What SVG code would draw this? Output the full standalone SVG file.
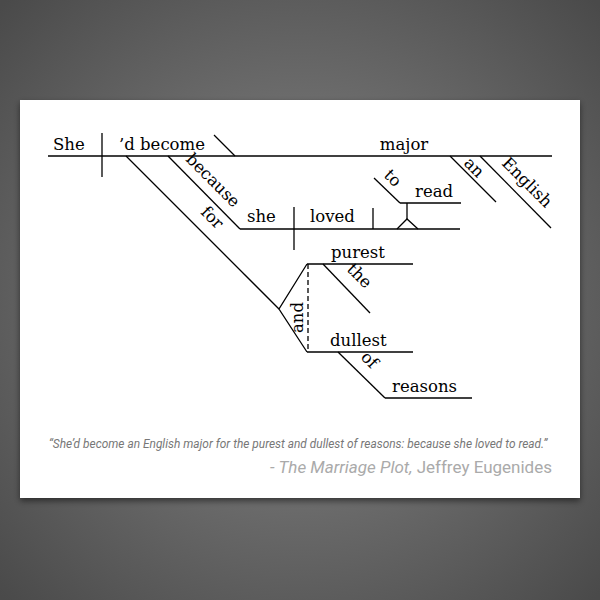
<svg xmlns="http://www.w3.org/2000/svg" width="600" height="600" viewBox="0 0 600 600">
<defs>
<radialGradient id="bg" cx="50%" cy="50%" r="70%"><stop offset="0" stop-color="#8a8a8a"/><stop offset="1" stop-color="#4a4a4a"/></radialGradient>
<filter id="sh" x="-5%" y="-5%" width="110%" height="115%"><feDropShadow dx="0" dy="3" stdDeviation="3" flood-opacity="0.5"/></filter>
</defs>
<style>
.l{stroke:#000;stroke-width:1.3;fill:none}
.t{font-family:"DejaVu Serif",serif;font-size:16.5px;fill:#000}
.q{font-family:"Roboto","Liberation Sans",sans-serif;font-style:italic;fill:#777}
</style>
<rect width="600" height="600" fill="url(#bg)"/>
<rect x="20" y="100" width="560" height="398" fill="#fff" filter="url(#sh)"/>
<g id="connectors">
<line class="l" x1="48" y1="156" x2="552" y2="156"/>
<line class="l" x1="102" y1="133" x2="102" y2="177"/>
<line class="l" x1="214" y1="135" x2="235" y2="156"/>
<line class="l" x1="450" y1="156" x2="496" y2="202"/>
<line class="l" x1="480" y1="156" x2="551" y2="228"/>
<line class="l" x1="126" y1="156" x2="279" y2="309"/>
<polyline class="l" points="307,264 279,309 307,352"/>
<line class="l" x1="307" y1="264" x2="413" y2="264"/>
<line class="l" x1="308" y1="264" x2="308" y2="352" stroke-dasharray="5,3"/>
<line class="l" x1="323" y1="264" x2="370" y2="313"/>
<line class="l" x1="307" y1="352" x2="413" y2="352"/>
<line class="l" x1="338" y1="352" x2="385" y2="398"/>
<line class="l" x1="385" y1="398" x2="472" y2="398"/>
<line class="l" x1="168" y1="156" x2="240" y2="229"/>
<line class="l" x1="240" y1="229" x2="460" y2="229"/>
<line class="l" x1="294" y1="207" x2="294" y2="250"/>
<line class="l" x1="373" y1="208" x2="373" y2="229"/>
<line class="l" x1="374" y1="178" x2="400" y2="203"/>
<line class="l" x1="400" y1="203" x2="461" y2="203"/>
<line class="l" x1="407" y1="203" x2="407" y2="219"/>
<polyline class="l" points="397,229 407,219 418,229"/>
</g>
<g id="n-she"><text class="t" x="53" y="150">She</text></g>
<g id="n-become"><text class="t" x="119" y="150">’d become</text></g>
<g id="n-major"><text class="t" x="404" y="150" text-anchor="middle">major</text></g>
<g id="n-an"><text class="t" transform="translate(463,164) rotate(45)">an</text></g>
<g id="n-english"><text class="t" transform="translate(501,164) rotate(45)">English</text></g>
<g id="n-because"><text class="t" transform="translate(185,160) rotate(45)">because</text></g>
<g id="n-she2"><text class="t" x="247" y="222">she</text></g>
<g id="n-loved"><text class="t" x="310" y="222">loved</text></g>
<g id="n-to"><text class="t" transform="translate(383,176) rotate(45)">to</text></g>
<g id="n-read"><text class="t" x="415" y="197">read</text></g>
<g id="n-for"><text class="t" transform="translate(200,213) rotate(45)">for</text></g>
<g id="n-and"><text class="t" transform="translate(303,333) rotate(-90)">and</text></g>
<g id="n-purest"><text class="t" x="331" y="258">purest</text></g>
<g id="n-the"><text class="t" transform="translate(346,270) rotate(45)">the</text></g>
<g id="n-dullest"><text class="t" x="330" y="346">dullest</text></g>
<g id="n-of"><text class="t" transform="translate(360,358) rotate(45)">of</text></g>
<g id="n-reasons"><text class="t" x="392" y="392">reasons</text></g>
<g id="quote">
<text class="q" x="298" y="448" font-size="11.9" text-anchor="middle">“She’d become an English major for the purest and dullest of reasons: because she loved to read.”</text>
<text class="q" x="552" y="473" font-size="17" text-anchor="end" style="fill:#aaa">- The Marriage Plot, <tspan font-style="normal">Jeffrey Eugenides</tspan></text>
</g>
</svg>
